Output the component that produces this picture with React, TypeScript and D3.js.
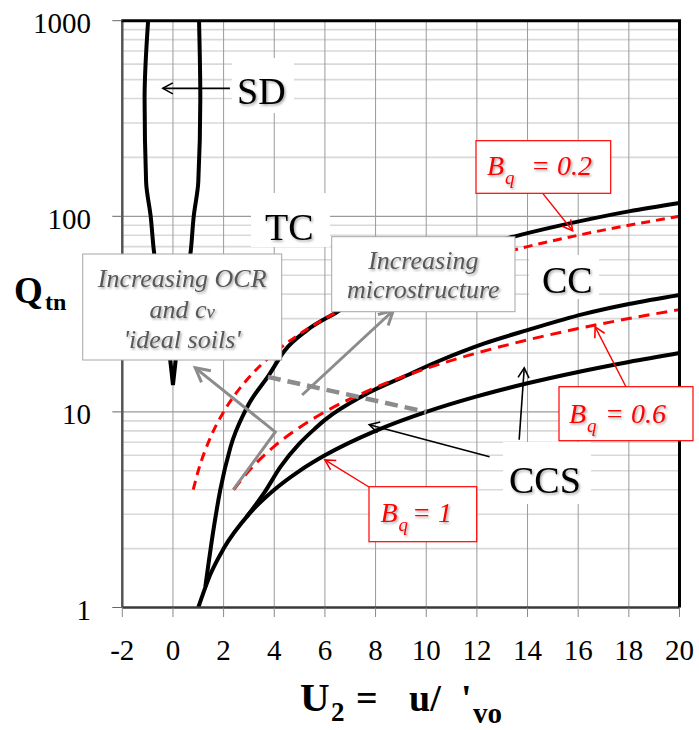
import React from "react";
import * as d3 from "d3";

// Chart frame
const W = 699;
const H = 730;

// Axis ticks
const xTicks = [-2, 0, 2, 4, 6, 8, 10, 12, 14, 16, 18, 20];
const yDecades = [1, 10, 100, 1000];
const yTickLabels = ["1", "10", "100", "1000"];

// Boundary curves: [U2, Qtn]
const sdLeft: [number, number][] = [
  [-0.98, 1000], [-1.12, 400], [-1.06, 150], [-0.88, 100], [-0.75, 66],
  [-0.5, 40], [-0.25, 25], [-0.1, 18], [0, 13.7],
];
const sdRight: [number, number][] = [
  [1.03, 1000], [1.08, 400], [1.0, 150], [0.82, 100], [0.7, 66],
  [0.45, 40], [0.22, 25], [0.1, 18], [0, 13.7],
];
const tcBoundary: [number, number][] = [
  [1.28, 1.28], [1.6, 2.5], [1.87, 4], [2.27, 6.6], [2.9, 10.4], [3.8, 15.5],
  [4.4, 20.5], [5.3, 26.2], [6.5, 32.5], [8, 43], [10, 57], [12, 70],
  [13.5, 79], [15, 88], [16.5, 97], [18, 106], [20, 117],
];
const ccsUpper: [number, number][] = [
  [2.9, 2.9], [3.6, 3.85], [4.25, 5.25], [5, 6.9], [5.6, 8.2], [6, 9.1],
  [7.5, 12.1], [9.2, 15.3], [10.5, 18.2], [12.3, 22.4], [14, 26.2],
  [16.2, 31.6], [18, 35.6], [20, 39.6],
];
const ccsLower: [number, number][] = [
  [1, 1], [1.5, 1.5], [2, 2], [3, 3], [4, 4], [5, 5], [6, 6], [8, 8],
  [10, 10], [12, 12], [14, 14], [16, 16], [18, 18], [20, 20],
];
const bq02: [number, number][] = [
  [0.8, 4], [1, 5], [1.5, 7.5], [2, 10], [2.5, 12.5], [3, 15], [4, 20],
  [5, 25], [6, 30], [8, 40], [10, 50], [12, 60], [14, 70], [16, 80],
  [18, 90], [20, 100],
];
const bq06: [number, number][] = [
  [2.4, 4], [3, 5], [4, 6.67], [5, 8.33], [6, 10], [8, 13.33], [10, 16.67],
  [12, 20], [14, 23.33], [16, 26.67], [18, 30], [20, 33.33],
];
const transitionDashed: [number, number][] = [[3.75, 15.1], [10, 10]];

// Annotation arrows: [U2, Qtn]
const sdArrow: [number, number][] = [[2.25, 451], [-0.4, 451]];
const ccsArrowA: [number, number][] = [[12.5, 5.9], [7.75, 8.6]];
const ccsArrowB: [number, number][] = [[13.67, 7.2], [13.87, 16.8]];
const ocrArrow: [number, number][] = [[2.38, 4.0], [4.04, 7.9], [0.88, 16.8]];
const microArrow: [number, number][] = [[5.1, 12.2], [8.7, 33]];
const bq02Arrow: [number, number][] = [[14.6, 131], [15.78, 84.4]];
const bq06Arrow: [number, number][] = [[17.89, 13.4], [16.67, 27.2]];
const bq1Arrow: [number, number][] = [[7.74, 4.13], [6.0, 5.68]];

const serif = "'Liberation Serif', 'Times New Roman', serif";

export default function App() {
  const x = d3.scaleLinear().domain([-2, 20]).range([122.3, 679.5]);
  const y = d3.scaleLog().domain([1, 1000]).range([607.5, 20.7]);

  const smoothX = d3
    .line<[number, number]>()
    .x((d) => x(d[0]))
    .y((d) => y(d[1]))
    .curve(d3.curveMonotoneX);
  const smoothY = d3
    .line<[number, number]>()
    .x((d) => x(d[0]))
    .y((d) => y(d[1]))
    .curve(d3.curveMonotoneY);
  const straight = d3
    .line<[number, number]>()
    .x((d) => x(d[0]))
    .y((d) => y(d[1]));

  const [x0, x1] = x.range();
  const [yBottom, yTop] = y.range();

  const minorValues: number[] = [];
  [1, 10, 100].forEach((d) => {
    for (let k = 2; k <= 9; k++) minorValues.push(k * d);
  });

  const curveStroke = { fill: "none", stroke: "#000", strokeWidth: 4 };

  return (
    <svg
      width={W}
      height={H}
      style={{ position: "absolute", left: 0, top: 0, background: "#fff" }}
      fontFamily={serif}
    >
      <defs>
        <filter id="shadow" x="-20%" y="-30%" width="140%" height="160%">
          <feDropShadow dx="1.4" dy="1.6" stdDeviation="1.1" floodColor="#000" floodOpacity="0.35" />
        </filter>
        <marker id="headBlack" markerUnits="userSpaceOnUse" viewBox="0 0 14 14" markerWidth={14} markerHeight={14} refX={12} refY={7} orient="auto" overflow="visible">
          <path d="M2,1.5 L12,7 L2,12.5" fill="none" stroke="#000" strokeWidth={1.6} />
        </marker>
        <marker id="headRed" markerUnits="userSpaceOnUse" viewBox="0 0 14 14" markerWidth={14} markerHeight={14} refX={12} refY={7} orient="auto" overflow="visible">
          <path d="M2,1.5 L12,7 L2,12.5" fill="none" stroke="#ff0000" strokeWidth={1.6} />
        </marker>
        <marker id="headGray" markerUnits="userSpaceOnUse" viewBox="0 0 20 18" markerWidth={20} markerHeight={18} refX={17} refY={9} orient="auto" overflow="visible">
          <path d="M3,1.5 L17,9 L3,16.5" fill="none" stroke="#8c8c8c" strokeWidth={3} />
        </marker>
      </defs>

      <rect x={0} y={0} width={W} height={H} fill="#fff" />

      {/* minor horizontal grid */}
      {minorValues.map((v) => (
        <line key={"mn" + v} x1={x0} x2={x1} y1={y(v)} y2={y(v)} stroke="#d9d9d9" strokeWidth={1.6} />
      ))}
      {/* vertical grid */}
      {xTicks.map((t) => (
        <line key={"vx" + t} x1={x(t)} x2={x(t)} y1={yTop} y2={yBottom} stroke="#9a9a9a" strokeWidth={1} />
      ))}
      {/* major horizontal grid */}
      {yDecades.map((t) => (
        <line key={"hy" + t} x1={x0} x2={x1} y1={y(t)} y2={y(t)} stroke="#9a9a9a" strokeWidth={1.2} />
      ))}

      {/* zone label backgrounds */}
      <rect x={232} y={58} width={62} height={55} fill="#fff" />
      <rect x={251} y={193} width={79} height={54} fill="#fff" />
      <rect x={529} y={255} width={70} height={44} fill="#fff" />
      <rect x={503} y={442} width={88} height={62} fill="#fff" />

      {/* boundary curves */}
      <path d={smoothY(sdLeft) ?? ""} {...curveStroke} />
      <path d={smoothY(sdRight) ?? ""} {...curveStroke} />
      <path d={smoothX(ccsLower) ?? ""} {...curveStroke} />
      <path d={smoothX(ccsUpper) ?? ""} {...curveStroke} />
      <path d={smoothX(tcBoundary) ?? ""} {...curveStroke} />

      {/* constant Bq lines */}
      <path d={smoothX(bq02) ?? ""} fill="none" stroke="#ff0000" strokeWidth={3} strokeDasharray="9,6" />
      <path d={smoothX(bq06) ?? ""} fill="none" stroke="#ff0000" strokeWidth={3} strokeDasharray="11,7" />

      {/* transition line and trend arrows */}
      <path d={straight(transitionDashed) ?? ""} fill="none" stroke="#8c8c8c" strokeWidth={4.5} strokeDasharray="13,7" />
      <path d={straight(ocrArrow) ?? ""} fill="none" stroke="#8c8c8c" strokeWidth={3} markerEnd="url(#headGray)" />
      <path d={straight(microArrow) ?? ""} fill="none" stroke="#8c8c8c" strokeWidth={3} markerEnd="url(#headGray)" />

      {/* plot frame */}
      <line x1={x0} x2={x0} y1={yTop} y2={yBottom} stroke="#555" strokeWidth={2.5} />
      <line x1={x0} x2={x1} y1={yBottom} y2={yBottom} stroke="#3a3a3a" strokeWidth={2.5} />
      <line x1={x0 - 1} x2={x1 + 1.5} y1={yTop} y2={yTop} stroke="#000" strokeWidth={3} />
      <line x1={x1} x2={x1} y1={yTop} y2={yBottom} stroke="#000" strokeWidth={3} />

      {/* ticks */}
      {yDecades.map((t) => (
        <line key={"ty" + t} x1={x0 - 10} x2={x0} y1={y(t)} y2={y(t)} stroke="#666" strokeWidth={1} />
      ))}
      {xTicks.map((t) => (
        <line key={"tx" + t} x1={x(t)} x2={x(t)} y1={yBottom} y2={yBottom + 9.5} stroke="#888" strokeWidth={1} />
      ))}

      {/* tick labels */}
      {yDecades.map((t, i) => (
        <text key={"ly" + t} x={91} y={y(t) + 12.5} fontSize={29} textAnchor="end" fill="#000">
          {yTickLabels[i]}
        </text>
      ))}
      {xTicks.map((t) => (
        <text key={"lx" + t} x={x(t)} y={660} fontSize={29} textAnchor="middle" fill="#000">
          {t}
        </text>
      ))}

      {/* axis titles */}
      <text x={14} y={303} fontSize={37} fontWeight="bold">Q</text>
      <text x={45} y={310} fontSize={24} fontWeight="bold">tn</text>

      <text x={300} y={711} fontSize={41} fontWeight="bold">U</text>
      <text x={331} y={721} fontSize={27} fontWeight="bold">2</text>
      <text x={356} y={711} fontSize={38} fontWeight="bold">=</text>
      <text x={409} y={711} fontSize={38} fontWeight="bold">u/</text>
      <text x={461} y={711} fontSize={38} fontWeight="bold">'</text>
      <text x={473} y={723} fontSize={29} fontWeight="bold">vo</text>

      {/* zone labels */}
      <g fontSize={38} fill="#000" filter="url(#shadow)">
        <text x={237} y={104}>SD</text>
        <text x={265} y={240}>TC</text>
        <text x={542} y={292.7}>CC</text>
        <text x={509} y={493}>CCS</text>
      </g>

      {/* black pointers */}
      <path d={straight(sdArrow) ?? ""} stroke="#000" strokeWidth={1.6} fill="none" markerEnd="url(#headBlack)" />
      <path d={straight(ccsArrowA) ?? ""} stroke="#000" strokeWidth={1.6} fill="none" markerEnd="url(#headBlack)" />
      <path d={straight(ccsArrowB) ?? ""} stroke="#000" strokeWidth={1.6} fill="none" markerEnd="url(#headBlack)" />

      {/* trend boxes */}
      <g>
        <rect x={82.7} y={254} width={199} height={106} fill="#fff" stroke="#a6a6a6" strokeWidth={1} />
        <g fontSize={26} fontStyle="italic" fill="#595959" textAnchor="middle" filter="url(#shadow)">
          <text x={182.2} y={286.7}>Increasing OCR</text>
          <text x={182.2} y={318.3}>
            and c<tspan fontSize={19}>v</tspan>
          </text>
          <text x={182.2} y={348.3}>'ideal soils'</text>
        </g>
      </g>
      <g>
        <rect x={331.7} y={236.7} width={183.3} height={75} fill="#fff" stroke="#a6a6a6" strokeWidth={1} />
        <g fontSize={26} fontStyle="italic" fill="#595959" textAnchor="middle" filter="url(#shadow)">
          <text x={423.3} y={268.5}>Increasing</text>
          <text x={423.3} y={298.3}>microstructure</text>
        </g>
      </g>

      {/* Bq callouts */}
      <path d={straight(bq02Arrow) ?? ""} stroke="#ff0000" strokeWidth={1.4} fill="none" markerEnd="url(#headRed)" />
      <path d={straight(bq06Arrow) ?? ""} stroke="#ff0000" strokeWidth={1.4} fill="none" markerEnd="url(#headRed)" />
      <path d={straight(bq1Arrow) ?? ""} stroke="#ff0000" strokeWidth={1.4} fill="none" markerEnd="url(#headRed)" />

      <rect x={476} y={140.7} width={134.7} height={52.6} fill="#fff" stroke="#ff0000" strokeWidth={1.2} />
      <rect x={559} y={386.7} width={134} height={54} fill="#fff" stroke="#ff0000" strokeWidth={1.2} />
      <rect x={369} y={486.7} width={107.7} height={55} fill="#fff" stroke="#ff0000" strokeWidth={1.2} />

      <g fill="#ff0000" fontStyle="italic" filter="url(#shadow)">
        <text x={487} y={175} fontSize={28}>B</text>
        <text x={505} y={184} fontSize={19}>q</text>
        <text x={531} y={175} fontSize={28}>= 0.2</text>

        <text x={569} y={423} fontSize={28}>B</text>
        <text x={587} y={432} fontSize={19}>q</text>
        <text x={605} y={423} fontSize={28}>= 0.6</text>

        <text x={380.5} y={521.7} fontSize={28}>B</text>
        <text x={398.5} y={530.7} fontSize={19}>q</text>
        <text x={412} y={521.7} fontSize={28}>= 1</text>
      </g>
    </svg>
  );
}
